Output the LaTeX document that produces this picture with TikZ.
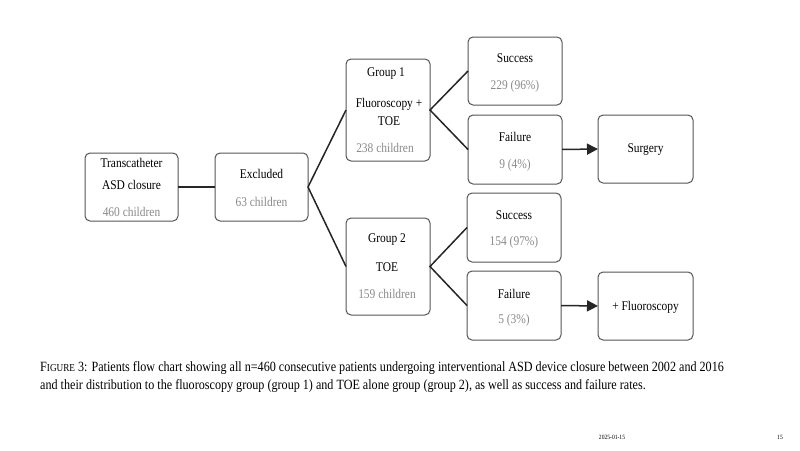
\documentclass[tikz,border=0pt]{standalone}
\usepackage{fontspec}
\setmainfont[FakeStretch=0.86]{Liberation Serif}
\usetikzlibrary{arrows.meta}
\definecolor{boxline}{HTML}{555555}
\definecolor{numgray}{HTML}{8A8A8A}
\tikzset{
  box/.style={draw=boxline, line width=1pt, rounded corners=5pt, fill=white},
  lbl/.style={font=\fontsize{13.3}{14}\selectfont, text=black, inner sep=0pt},
  num/.style={font=\fontsize{13.3}{14}\selectfont, text=numgray, inner sep=0pt},
  conn/.style={draw=black!85, line width=1.5pt},
  arr/.style={conn, -{Triangle[length=11pt,width=11pt]}},
  captext/.style={font=\fontsize{14.1}{18}\selectfont, anchor=west, inner sep=0pt},
  foot/.style={font=\fontsize{6.5}{7}\selectfont, inner sep=0pt}
}
\newcommand{\mkbox}[5]{\path[box] (#2,#3) rectangle (#4,#5); \coordinate (#1w) at (#2,{(#3+#5)/2}); \coordinate (#1e) at (#4,{(#3+#5)/2});}
\begin{document}
\begin{tikzpicture}[x=1pt,y=-1pt]
\useasboundingbox[fill=white] (0,0) rectangle (800,450);
% boxes
\mkbox{tc}{85}{153}{178}{221}
\mkbox{ex}{215}{153}{308}{221}
\mkbox{ga}{346}{59}{430}{161}
\mkbox{sa}{468}{37}{562}{105}
\mkbox{fa}{468}{115}{562}{184}
\mkbox{su}{598}{115}{693}{183}
\mkbox{gb}{346}{218}{430}{315}
\mkbox{sb}{467}{193}{561}{262}
\mkbox{fb}{467}{271}{561}{340}
\mkbox{fl}{598}{272}{693}{340}
% texts
\node[lbl] (t1) at (131.5,163) {Transcatheter};
\node[lbl] (t2) at (131.5,185) {ASD closure};
\node[num] (t3) at (131.5,212) {460 children};
\node[lbl] (t4) at (261.5,174) {Excluded};
\node[num] (t5) at (261.5,202) {63 children};
\node[lbl] (t6) at (386,74) {Group 1};
\node[lbl] (t7) at (389,104) {Fluoroscopy +};
\node[lbl] (t8) at (389,121) {TOE};
\node[num] (t9) at (385,148) {238 children};
\node[lbl] (t10) at (515,58) {Success};
\node[num] (t11) at (515,86) {229 (96\%)};
\node[lbl] (t12) at (515,137) {Failure};
\node[num] (t13) at (515,165) {9 (4\%)};
\node[lbl] (t14) at (645.5,150) {Surgery};
\node[lbl] (t15) at (387,240) {Group 2};
\node[lbl] (t16) at (387,267) {TOE};
\node[num] (t17) at (387,294) {159 children};
\node[lbl] (t18) at (514,215) {Success};
\node[num] (t19) at (514,242) {154 (97\%)};
\node[lbl] (t20) at (514,294) {Failure};
\node[num] (t21) at (514,320) {5 (3\%)};
\node[lbl] (t22) at (645.5,307) {+ Fluoroscopy};
% connectors
\draw[conn] (tce) -- (exw);
\draw[conn] (gaw) -- (exe) -- (gbw);
\draw[conn] (sbw) -- (gbe) -- (fbw);
\draw[conn] (saw) -- (gae) -- (faw);
\draw[arr] (fae) -- (suw);
\draw[arr] (fbe) -- (flw);
% caption
\node[captext] (c1) at (40,368) {F{\fontsize{10.7}{11}\selectfont IGURE} 3: Patients flow chart showing all n=460 consecutive patients undergoing interventional ASD device closure between 2002 and 2016};
\node[captext] (c2) at (40,386) {and their distribution to the fluoroscopy group (group 1) and TOE alone group (group 2), as well as success and failure rates.};
\node[foot] (d) at (612,437) {2025-01-15};
\node[foot] (p) at (780,437) {15};
\end{tikzpicture}
\end{document}
